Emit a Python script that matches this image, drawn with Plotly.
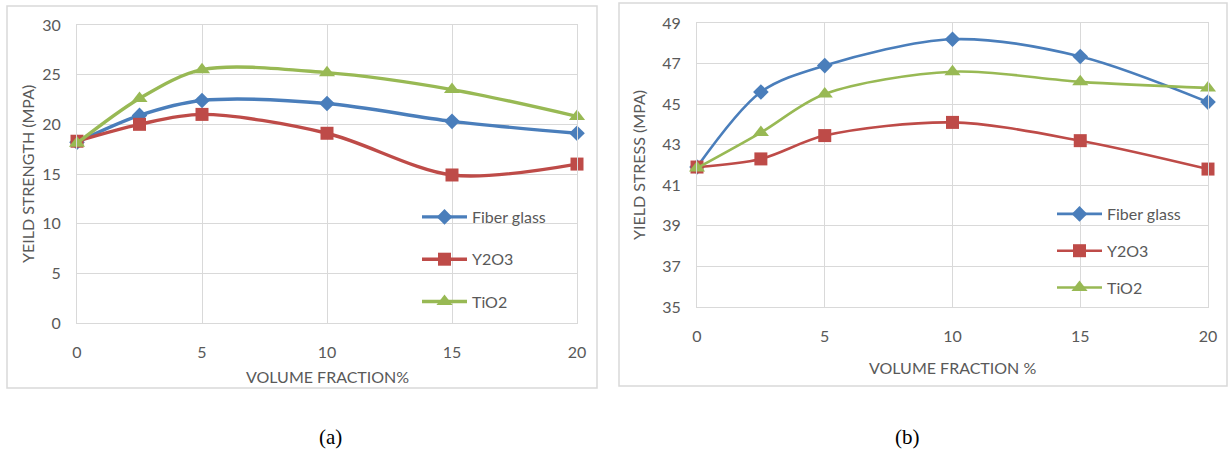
import plotly.graph_objects as go

W, H = 1229, 457

volume_fraction = [0, 2.5, 5, 10, 15, 20]

# (a) Yield strength (MPa)
a_fiber_glass = [18.2, 20.9, 22.4, 22.1, 20.3, 19.1]
a_y2o3 = [18.3, 20.0, 21.0, 19.1, 14.9, 16.0]
a_tio2 = [18.1, 22.6, 25.5, 25.2, 23.5, 20.8]

# (b) Yield stress (MPa)
b_fiber_glass = [41.9, 45.6, 46.9, 48.2, 47.35, 45.1]
b_y2o3 = [41.9, 42.3, 43.45, 44.1, 43.2, 41.8]
b_tio2 = [41.85, 43.6, 45.5, 46.6, 46.1, 45.8]

series_names = ["Fiber glass", "Y2O3", "TiO2"]
a_ticks = [0, 5, 10, 15, 20, 25, 30]
b_ticks = [35, 37, 39, 41, 43, 45, 47, 49]
x_ticks = [0, 5, 10, 15, 20]

colors = ["#4A7EBB", "#BE4B48", "#98B954"]
symbols = ["diamond", "square", "triangle-up"]
msizes = [12, 13, 14]
TXT = "#595959"
GRID = "#D9D9D9"
FONT = "Lato"

fig = go.Figure()

for i, (name, ys) in enumerate(zip(series_names, [a_fiber_glass, a_y2o3, a_tio2])):
    fig.add_trace(go.Scatter(
        x=volume_fraction, y=ys, name=name, mode="lines+markers",
        line=dict(color=colors[i], width=3.4, shape="spline", smoothing=0.9),
        marker=dict(symbol=symbols[i], size=msizes[i], color=colors[i]),
        xaxis="x", yaxis="y", legend="legend", legendgroup="a%d" % i,
        cliponaxis=False))

for i, (name, ys) in enumerate(zip(series_names, [b_fiber_glass, b_y2o3, b_tio2])):
    fig.add_trace(go.Scatter(
        x=volume_fraction, y=ys, name=name, mode="lines+markers",
        line=dict(color=colors[i], width=2.6, shape="spline", smoothing=0.9),
        marker=dict(symbol=symbols[i], size=msizes[i], color=colors[i]),
        xaxis="x2", yaxis="y2", legend="legend2", legendgroup="b%d" % i,
        cliponaxis=False))

def px_x(v):
    return v / W

def px_y(v):
    return 1 - v / H

axis_common = dict(showgrid=True, gridcolor=GRID, gridwidth=1, zeroline=False,
                   showline=True, linecolor=GRID, linewidth=1, mirror=True,
                   automargin=False,
                   tickfont=dict(family=FONT, size=16, color=TXT), ticks="")

def label(text, x, y, size=15, angle=0, family=FONT, color=TXT):
    return dict(text=text, x=px_x(x), y=px_y(y), xref="paper", yref="paper",
                xanchor="center", yanchor="middle", showarrow=False,
                textangle=angle, font=dict(family=family, size=size, color=color))

fig.update_layout(
    width=W, height=H, margin=dict(l=0, r=0, t=0, b=0, pad=0, autoexpand=False),
    paper_bgcolor="white", plot_bgcolor="white",
    font=dict(family=FONT, color=TXT),
    xaxis=dict(domain=[px_x(77), px_x(577)], range=[0, 20], tickvals=x_ticks,
               anchor="y", ticklabelstandoff=15, **axis_common),
    yaxis=dict(domain=[px_y(323), px_y(25)], range=[0, 30], tickvals=a_ticks,
               anchor="x", ticklabelstandoff=12, **axis_common),
    xaxis2=dict(domain=[px_x(697), px_x(1208)], range=[0, 20], tickvals=x_ticks,
                anchor="y2", ticklabelstandoff=15, **axis_common),
    yaxis2=dict(domain=[px_y(307), px_y(23)], range=[35, 49], tickvals=b_ticks,
                anchor="x2", ticklabelstandoff=12, **axis_common),
    legend=dict(x=px_x(417), y=px_y(200), xanchor="left", yanchor="top",
                bgcolor="rgba(255,255,255,0)", itemwidth=45,
                font=dict(family=FONT, size=16, color=TXT),
                traceorder="grouped", tracegroupgap=18.5, itemclick=False),
    legend2=dict(x=px_x(1052), y=px_y(197), xanchor="left", yanchor="top",
                 bgcolor="rgba(255,255,255,0)", itemwidth=45,
                 font=dict(family=FONT, size=16, color=TXT),
                 traceorder="grouped", tracegroupgap=13, itemclick=False),
    shapes=[
        dict(type="rect", xref="paper", yref="paper",
             x0=px_x(7), x1=px_x(597), y0=px_y(388), y1=px_y(6),
             line=dict(color=GRID, width=1.5), layer="below"),
        dict(type="rect", xref="paper", yref="paper",
             x0=px_x(619), x1=px_x(1227), y0=px_y(386), y1=px_y(3),
             line=dict(color=GRID, width=1.5), layer="below"),
    ],
    annotations=[
        label("VOLUME FRACTION%", 327, 376, size=16),
        label("YEILD STRENGTH (MPA)", 27, 174, size=16, angle=-90),
        label("VOLUME FRACTION %", 952, 367, size=16),
        label("YIELD STRESS (MPA)", 638, 165, size=16, angle=-90),
        label("(a)", 330, 437, size=21, family="Liberation Serif", color="black"),
        label("(b)", 907, 437, size=21, family="Liberation Serif", color="black"),
    ],
)

fig.write_html("out.html", config={"displayModeBar": False},
               post_script="document.body.style.margin='0';document.body.style.overflow='hidden';")
